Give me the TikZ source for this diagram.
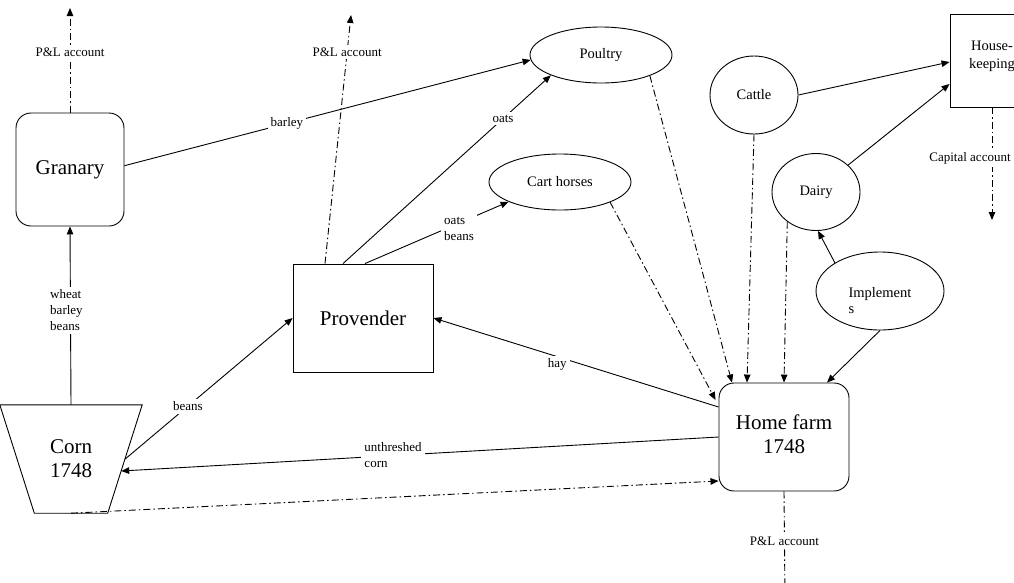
\documentclass[tikz,border=0pt]{standalone}
\usepackage{fontspec}
\setmainfont{Liberation Serif}
\usetikzlibrary{arrows.meta,shapes.geometric}
\begin{document}
\begin{tikzpicture}[x=1pt,y=-1pt,
 big/.style={font=\fontsize{21}{24}\selectfont, align=center},
 ell/.style={draw, ellipse, inner sep=0pt, line width=0.9pt, font=\fontsize{14.5}{17}\selectfont},
 lbl/.style={font=\fontsize{13}{16}\selectfont, fill=white, inner sep=3pt, align=left},
 flow/.style={line width=0.9pt, -{Triangle[length=8pt,width=6.5pt]}},
 acct/.style={line width=0.9pt, dash pattern=on 7pt off 3pt on 1.5pt off 3pt, -{Triangle[length=8pt,width=6.5pt]}},
 rbox/.style={draw, rounded corners=15pt, line width=0.9pt, inner sep=0pt},
]
\useasboundingbox (0,0) rectangle (1014,582);
\fill[white] (0,0) rectangle (1014,582);

% nodes
\node[rbox, big, minimum width=108pt, minimum height=113pt] (granary) at (70,169.5) {Granary};
\node[big, minimum width=142pt, minimum height=108pt, inner sep=0pt] (corn) at (71,459) {Corn\\1748};
\draw[line width=0.9pt] (corn.north west) -- (corn.north east) -- ([xshift=-34.5pt]corn.south east)
      -- ([xshift=34.5pt]corn.south west) -- cycle;
\node[draw, line width=0.9pt, big, minimum width=140pt, minimum height=108pt] (prov) at (363,318) {Provender};
\node[ell, minimum width=142pt, minimum height=56pt] (poultry) at (601,55) {Poultry};
\node[ell, minimum width=142pt, minimum height=56pt] (cart) at (560,182) {Cart horses};
\node[ell, minimum width=88pt, minimum height=78pt] (cattle) at (754,95) {Cattle};
\node[ell, minimum width=88pt, minimum height=77pt] (dairy) at (816,192) {Dairy};
\node[ell, minimum width=128pt, minimum height=78pt,
      label={[name=impltext, font=\fontsize{14.5}{16}\selectfont, align=left, yshift=-10pt]center:Implement\\s}] (impl) at (880,291) {};
\node[draw, line width=0.9pt, minimum width=84pt, minimum height=93pt,
      label={[name=hktext, font=\fontsize{14.5}{18}\selectfont, align=center, yshift=4pt]center:House-\\keeping}] (hk) at (992,60.5) {};
\node[rbox, minimum width=130pt, minimum height=108pt,
      label={[name=hometext, big, yshift=3pt]center:Home farm\\1748}] (home) at (784,437) {};

% free ends
\coordinate (gtop) at (70,8);
\coordinate (ptop) at (351,15);
\coordinate (captop) at (992,220);
\coordinate (hbot) at (785,600);

% connectors
\draw[acct] (granary.north) -- node[lbl, pos=0.58, name=l1]{P\&L account} (gtop);
\draw[acct] ([xshift=-38pt]prov.north) -- node[lbl, pos=0.851, name=l2]{P\&L account} (ptop);
\draw[flow] (granary.4) -- node[lbl, pos=0.4, name=l3]{barley} (poultry.184);
\draw[flow] (corn.north) -- node[lbl, pos=0.53, xshift=-4pt, name=l4]{wheat\\barley\\beans} (granary.south);
\draw[flow] ([xshift=-17pt]corn.east) -- node[lbl, pos=0.375, name=l5]{beans} (prov.west);
\draw[flow] ([xshift=-20pt]prov.north) -- node[lbl, pos=0.77, name=l6]{oats} (poultry.202);
\draw[flow] ([xshift=2pt]prov.north) -- node[lbl, pos=0.655, yshift=-6pt, name=l7]{oats\\beans} (cart.201);
\draw[flow] ([yshift=30pt]home.west) -- node[lbl, pos=0.566, yshift=-8pt, name=l8]{hay} (prov.east);
\draw[flow] (home.west) -- node[lbl, pos=0.545, name=l9]{unthreshed\\corn} ([shift={(-21pt,-12pt)}]corn.east);
\draw[acct] (corn.south) -- ([yshift=-44pt]home.west);
\draw[acct] (cart.-22) -- ([shift={(-3pt,37pt)}]home.west);
\draw[acct] (poultry.-23) -- ([xshift=-52pt]home.north);
\draw[acct] (cattle.south) -- ([xshift=-37pt]home.north);
\draw[acct] (dairy.226) -- (home.north);
\draw[flow] (impl.148) -- (dairy.-87);
\draw[flow] (impl.south) -- ([xshift=43pt]home.north);
\draw[flow] (cattle.east) -- ([yshift=-1.5pt]hk.west);
\draw[flow] (dairy.40) -- ([yshift=-23.5pt]hk.west);
\draw[acct] (hk.south) -- node[lbl, pos=0.45, xshift=-22pt, name=l10]{Capital account} (captop);
\draw[acct] (home.south) -- node[lbl, pos=0.46, name=l11]{P\&L account} (hbot);
\end{tikzpicture}
\end{document}
